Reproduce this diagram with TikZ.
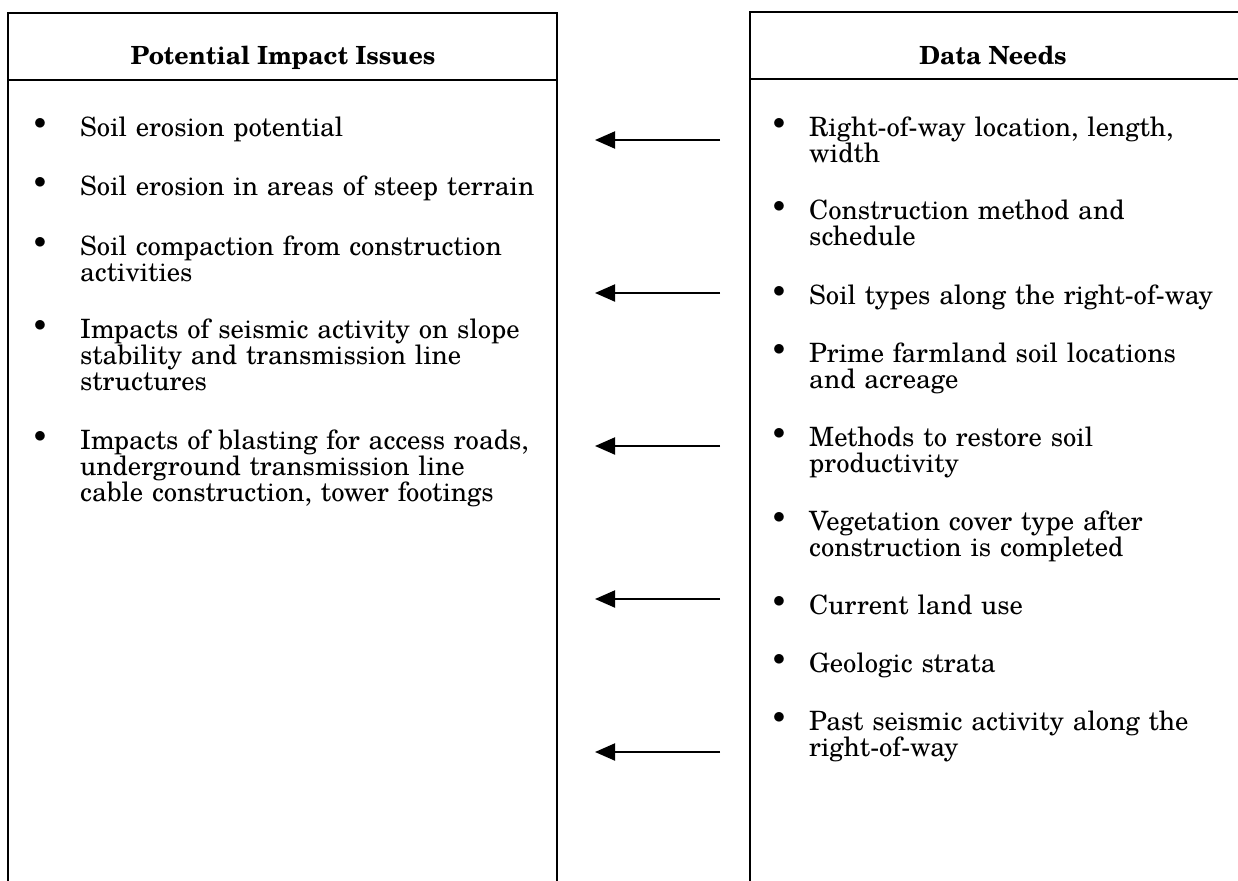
\documentclass[tikz,border=0pt]{standalone}
\usepackage{fontspec}
\setmainfont{TeX Gyre Schola}
\usetikzlibrary{arrows.meta}
\begin{document}
\begin{tikzpicture}[x=1pt,y=-1pt,
  frame/.style={line width=2.6pt, line cap=rect},
  head/.style={font=\fontsize{25}{28}\selectfont\bfseries, anchor=base, inner sep=0pt},
  item/.style={font=\fontsize{26.6}{26}\selectfont, anchor=base west, align=left,
               text width=540pt, inner sep=0pt},
  dot/.style={anchor=center, inner sep=0pt, font=\fontsize{27}{26}\selectfont},
  link/.style={line width=2pt, -{Triangle[length=20pt,width=17pt]}}
]
\useasboundingbox (0,0) rectangle (1238,880);

% left column frame (open at the bottom)
\draw[frame] (8,880) -- (8,13) -- (557,13) -- (557,880);
\draw[frame] (8,80) -- (557,80);
% right column frame (open at the bottom and right)
\draw[frame] (750,880) -- (750,12) -- (1238,12);
\draw[frame] (750,79) -- (1238,79);

\node[head] (lh) at (283,65) {Potential Impact Issues};
\node[head] (rh) at (993,65) {Data Needs};

% left list
\foreach \y/\t [count=\i] in {
  136/{Soil erosion potential},
  195/{Soil erosion in areas of steep terrain},
  255/{Soil compaction from construction\\activities},
  338/{Impacts of seismic activity on slope\\stability and transmission line\\structures},
  449/{Impacts of blasting for access roads,\\underground transmission line\\cable construction, tower footings}}
{
  \node[dot] (lb\i) at (40,\y-12) {$\bullet$};
  \node[item] (li\i) at (80,\y) {\t};
}

% right list
\foreach \y/\t [count=\i] in {
  136/{Right-of-way location, length,\\width},
  219/{Construction method and\\schedule},
  304/{Soil types along the right-of-way},
  362/{Prime farmland soil locations\\and acreage},
  446/{Methods to restore soil\\productivity},
  530/{Vegetation cover type after\\construction is completed},
  614/{Current land use},
  672/{Geologic strata},
  730/{Past seismic activity along the\\right-of-way}}
{
  \node[dot] (rb\i) at (779,\y-12) {$\bullet$};
  \node[item] (ri\i) at (809,\y) {\t};
}

% arrows from the data needs to the impact issues
\foreach \y [count=\i] in {140,293,446,599,752}{
  \coordinate (s\i) at (720,\y);
  \coordinate (e\i) at (595,\y);
  \draw[link] (s\i) -- (e\i);
}
\end{tikzpicture}
\end{document}
